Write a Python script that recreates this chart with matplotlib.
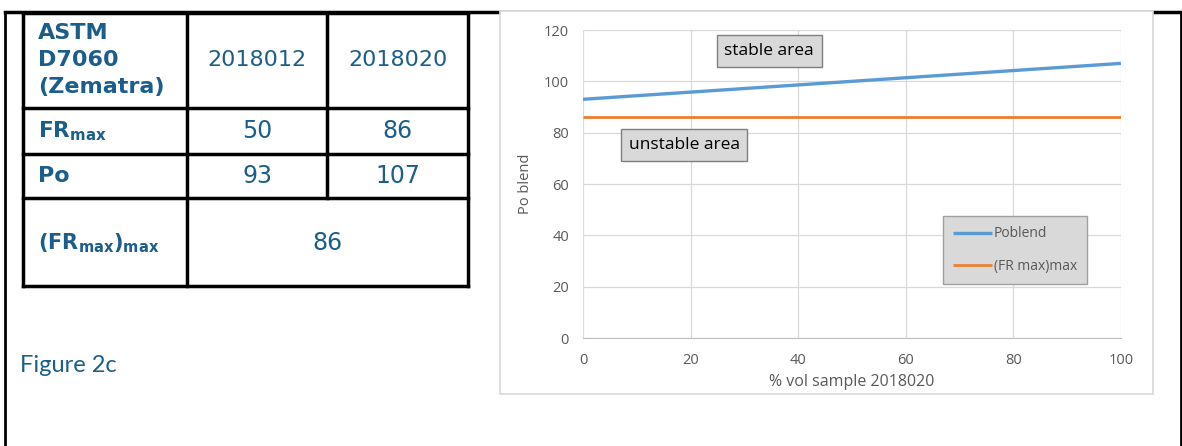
import matplotlib.pyplot as plt
from matplotlib.patches import Rectangle

plt.rcParams['mathtext.fontset'] = 'dejavusans'

# table data
samples = ['2018012', '2018020']
fr_max = [50, 86]
po = [93, 107]
fr_max_max = 86

# chart data
vol_pct = [0, 100]
po_blend = [93, 107]
fr_line = [86, 86]
xticks = [0, 20, 40, 60, 80, 100]
yticks = [0, 20, 40, 60, 80, 100, 120]

blue_txt = '#1b5e8c'
gray_txt = '#595959'

fig = plt.figure(figsize=(11.82, 4.46), dpi=100)

# pixel canvas for the page part (borders, table, caption)
ax0 = fig.add_axes([0, 0, 1, 1])
ax0.set_xlim(0, 1182)
ax0.set_ylim(446, 0)
ax0.axis('off')

# page borders
ax0.plot([5, 5], [12, 446], color='black', lw=2)
ax0.plot([1181, 1181], [12, 446], color='black', lw=2)
ax0.plot([5, 1182], [12, 12], color='black', lw=2.5)

# table grid
tx = [23, 187, 327, 468]
ty = [13, 108, 154, 198, 286]
for y in ty:
    ax0.plot([tx[0], tx[3]], [y, y], color='black', lw=2.5)
ax0.plot([tx[0], tx[0]], [ty[0], ty[4]], color='black', lw=2.5)
ax0.plot([tx[3], tx[3]], [ty[0], ty[4]], color='black', lw=2.5)
ax0.plot([tx[1], tx[1]], [ty[0], ty[4]], color='black', lw=2.5)
ax0.plot([tx[2], tx[2]], [ty[0], ty[3]], color='black', lw=2.5)

fs = 16
ax0.text(38, 60, 'ASTM\nD7060\n(Zematra)', fontsize=fs, fontweight='bold', color=blue_txt,
         ha='left', va='center', linespacing=1.45)
ax0.text(38, 131, r'$\mathbf{FR}_{\mathbf{max}}$', fontsize=15.5, color=blue_txt, ha='left', va='center')
ax0.text(38, 176, 'Po', fontsize=fs, fontweight='bold', color=blue_txt, ha='left', va='center')
ax0.text(38, 243, r'$\mathbf{(FR}_{\mathbf{max}}\mathbf{)}_{\mathbf{max}}$', fontsize=15, color=blue_txt,
         ha='left', va='center')
for i in range(2):
    cx = (tx[i + 1] + tx[i + 2]) / 2
    ax0.text(cx, 60, samples[i], fontsize=fs, color=blue_txt, ha='center', va='center')
    ax0.text(cx, 131, str(fr_max[i]), fontsize=fs + 1, color=blue_txt, ha='center', va='center')
    ax0.text(cx, 176, str(po[i]), fontsize=fs + 1, color=blue_txt, ha='center', va='center')
ax0.text((tx[1] + tx[3]) / 2, 243, str(fr_max_max), fontsize=fs + 1, color=blue_txt, ha='center', va='center')

ax0.text(20, 366, 'Figure 2c', fontsize=17, family='Lato', color=blue_txt, ha='left', va='center')

# chart frame
ax0.add_patch(Rectangle((500, 11), 653, 383, facecolor='white', edgecolor='#d9d9d9', lw=1.2, zorder=3))

# chart
ax = fig.add_axes([583 / 1182, (446 - 338) / 446, (1121 - 583) / 1182, (338 - 30) / 446])
ax.set_zorder(5)
ax.plot(vol_pct, po_blend, color='#5b9bd5', lw=2.4, label='Poblend', solid_capstyle='butt')
ax.plot(vol_pct, fr_line, color='#ed7d31', lw=2, label='(FR max)max', solid_capstyle='butt')
ax.set_xlim(0, 100)
ax.set_ylim(0, 120)
ax.set_xticks(xticks)
ax.set_yticks(yticks)
ax.grid(True, color='#d9d9d9', lw=0.9)
ax.set_axisbelow(True)
for s in ['top', 'right', 'left']:
    ax.spines[s].set_visible(False)
ax.spines['bottom'].set_color('#bfbfbf')
ax.tick_params(length=0, labelsize=10.5, labelcolor=gray_txt)
ax.tick_params(axis='y', pad=10)
ax.tick_params(axis='x', pad=11)
for lab in ax.get_xticklabels() + ax.get_yticklabels():
    lab.set_family('Open Sans')
ax.set_xlabel('% vol sample 2018020', fontsize=11.5, color=gray_txt, family='Open Sans', labelpad=4)
ax.set_ylabel('Po blend', fontsize=10.5, color=gray_txt, family='Open Sans', labelpad=8)

box = dict(boxstyle='square,pad=0.45', facecolor='#d9d9d9', edgecolor='#7f7f7f', lw=1)
ax.text(34.6, 111.8, 'stable area', fontsize=12.5, family='Open Sans', color='black',
        ha='center', va='center', bbox=box)
ax.text(18.8, 75.2, 'unstable area', fontsize=12.5, family='Open Sans', color='black',
        ha='center', va='center', bbox=box)

leg = ax.legend(loc='upper left', bbox_to_anchor=(0.669, 0.396), fontsize=10, borderaxespad=0,
                facecolor='#d9d9d9', edgecolor='#a0a0a0', framealpha=1, fancybox=False,
                handlelength=2.8, handletextpad=0.1, labelspacing=1.25, borderpad=0.75)
for t in leg.get_texts():
    t.set_color(gray_txt)
    t.set_family('Open Sans')

fig.savefig('out.png', dpi=100)
